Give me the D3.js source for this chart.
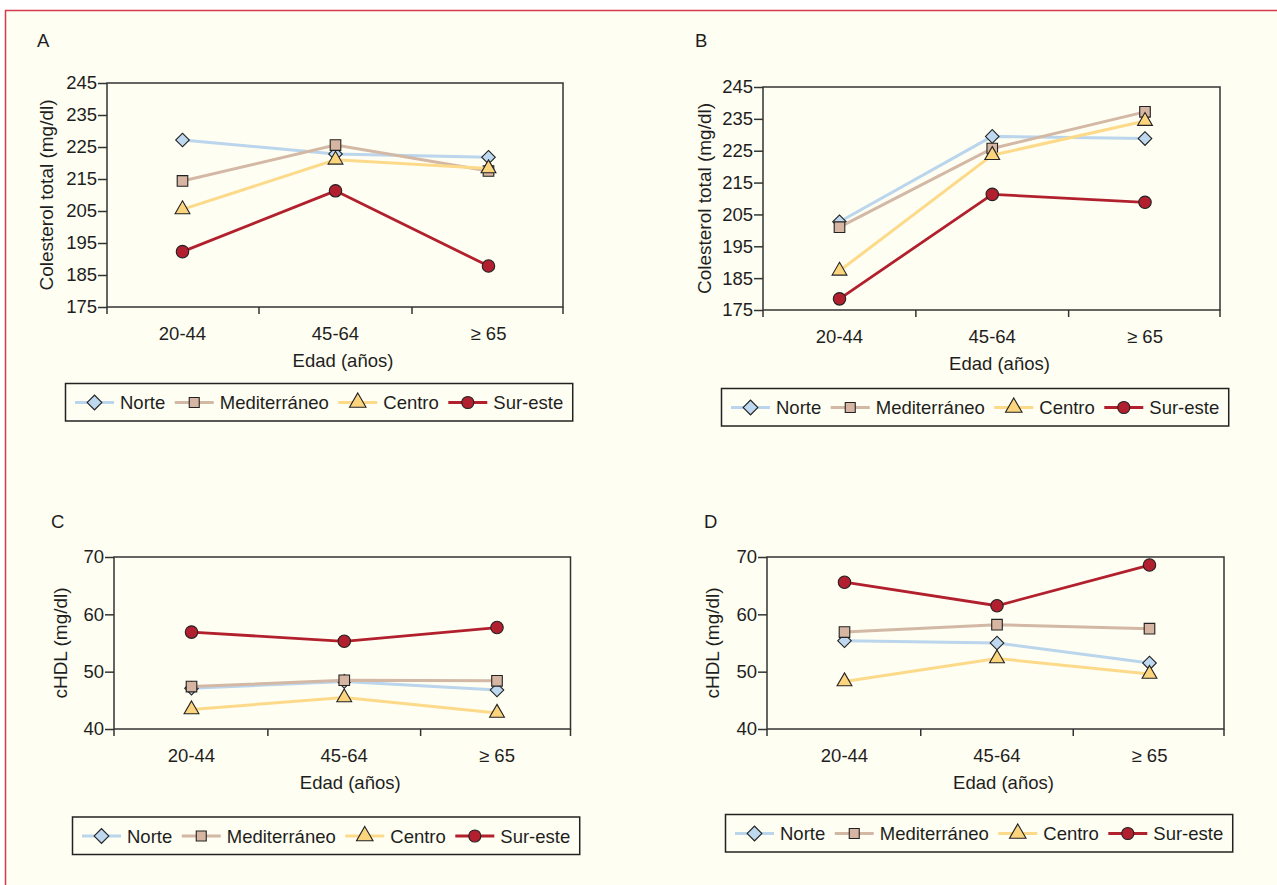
<!DOCTYPE html>
<html>
<head>
<meta charset="utf-8">
<script src="https://cdn.jsdelivr.net/npm/d3@7"></script>
<style>
  body { margin: 0; background: #fff; }
  svg text { font-family: "Liberation Sans", Arial, sans-serif; fill: #1e1e1e; }
</style>
</head>
<body>
<div class="chart"></div>
<script>
const w = 1277;
const h = 885;
const fs = "18.5px";

// categories and series
const ages = ["20-44", "45-64", "\u2265 65"];
const regions = ["Norte", "Mediterráneo", "Centro", "Sur-este"];

// A: colesterol total
const aNorte  = [227.2, 222.8, 221.8];
const aMed    = [214.4, 225.6, 217.5];
const aCentro = [205.5, 221.0, 218.3];
const aSur    = [192.3, 211.3, 187.8];

// B: colesterol total
const bNorte  = [202.7, 229.5, 228.8];
const bMed    = [201.0, 225.7, 237.2];
const bCentro = [187.3, 223.6, 234.3];
const bSur    = [178.5, 211.3, 208.8];

// C: cHDL
const cNorte  = [47.1, 48.3, 46.8];
const cMed    = [47.4, 48.5, 48.4];
const cCentro = [43.4, 45.5, 42.8];
const cSur    = [56.9, 55.3, 57.7];

// D: cHDL
const dNorte  = [55.4, 55.0, 51.5];
const dMed    = [56.9, 58.2, 57.5];
const dCentro = [48.3, 52.3, 49.6];
const dSur    = [65.6, 61.5, 68.6];

const cholTicks = [175, 185, 195, 205, 215, 225, 235, 245];
const hdlTicks = [40, 50, 60, 70];

const lineColor = ["#bad5ec", "#d4b8a6", "#fdda8a", "#b2202e"];
const fillColor = ["#bed8ef", "#d6b6a2", "#fbd47e", "#b21f2e"];
const lineWidth = [3, 3, 3, 2.8];
const shape = ["diamond", "square", "triangle", "circle"];

var svg = d3.select(".chart").append("svg")
    .attr("width", w)
    .attr("height", h);

// page background + red frame
svg.append("rect").attr("x", 5.5).attr("y", 10.5).attr("width", w).attr("height", h)
    .attr("fill", "#fefef2");
svg.append("path").attr("d", "M5.5," + h + "V10.5H" + w)
    .attr("fill", "none").attr("stroke", "#d8394c").attr("stroke-width", 1.5);

function markerPath(kind, big) {
  if (kind == "diamond") return d3.symbol(d3.symbolSquare, big ? 92 : 108)();
  if (kind == "square") return d3.symbol(d3.symbolSquare, big ? 112 : 100)();
  if (kind == "triangle") return d3.symbol(d3.symbolTriangle, big ? 95 : 118)();
  return d3.symbol(d3.symbolCircle, big ? 122 : 115)();
}

function drawMarker(g, kind, i, x, y, big) {
  g.append("path")
    .attr("d", markerPath(kind, big))
    .attr("transform", "translate(" + x + "," + y + ")" + (kind == "diamond" ? " rotate(45)" : ""))
    .attr("fill", fillColor[i])
    .attr("stroke", "#222")
    .attr("stroke-width", 1.1);
}

var panels = [
  { label: "A", lx: 37, ly: 47, x0: 107, x1: 563, y0: 83, y1: 307, p0: 182.5, p1: 488.5,
    ticks: cholTicks, title: "Colesterol total (mg/dl)", tx: 53,
    series: [aNorte, aMed, aCentro, aSur], legX: 65.5, legY: 383.5 },
  { label: "B", lx: 695, ly: 47, x0: 763, x1: 1220, y0: 87, y1: 310, p0: 839.5, p1: 1145,
    ticks: cholTicks, title: "Colesterol total (mg/dl)", tx: 711,
    series: [bNorte, bMed, bCentro, bSur], legX: 721.5, legY: 388.5 },
  { label: "C", lx: 51, ly: 528, x0: 114, x1: 570.5, y0: 557, y1: 729, p0: 191.5, p1: 497,
    ticks: hdlTicks, title: "cHDL (mg/dl)", tx: 67,
    series: [cNorte, cMed, cCentro, cSur], legX: 72.5, legY: 817 },
  { label: "D", lx: 704, ly: 528, x0: 767, x1: 1224, y0: 557, y1: 729, p0: 844.5, p1: 1149.5,
    ticks: hdlTicks, title: "cHDL (mg/dl)", tx: 719,
    series: [dNorte, dMed, dCentro, dSur], legX: 725.5, legY: 814.5 }
];

panels.forEach(drawPanel);

function drawPanel(p) {
  var g = svg.append("g");

  var xScale = d3.scalePoint().domain(ages).range([p.p0, p.p1]);
  var yScale = d3.scaleLinear()
      .domain([p.ticks[0], p.ticks[p.ticks.length - 1]])
      .range([p.y1, p.y0]);

  g.append("text").attr("x", p.lx).attr("y", p.ly)
    .style("font-size", fs).text(p.label);

  // frame
  g.append("rect")
    .attr("x", p.x0).attr("y", yScale.range()[1])
    .attr("width", p.x1 - p.x0).attr("height", p.y1 - p.y0)
    .attr("fill", "none").attr("stroke", "#333").attr("stroke-width", 1.5);

  // y axis
  var yAxis = d3.axisLeft(yScale).tickValues(p.ticks).tickSize(9).tickPadding(1);
  var ya = g.append("g")
    .attr("transform", "translate(" + p.x0 + ",0)")
    .call(yAxis);
  ya.select(".domain").remove();
  ya.selectAll("line").attr("stroke", "#333").attr("stroke-width", 1.5);
  ya.selectAll("text").style("font-size", fs).attr("fill", "#1e1e1e");

  // x axis: tick marks between the categories, labels on the points
  var step = xScale.step();
  var tickX = [p.x0, xScale(ages[0]) + step / 2, xScale(ages[1]) + step / 2, p.x1];
  g.selectAll(".xt").data(tickX).enter().append("line")
    .attr("x1", d => d).attr("x2", d => d)
    .attr("y1", p.y1).attr("y2", p.y1 + 7)
    .attr("stroke", "#333").attr("stroke-width", 1.5);
  g.selectAll(".xl").data(ages).enter().append("text")
    .attr("x", d => xScale(d)).attr("y", p.y1 + 33)
    .attr("text-anchor", "middle")
    .style("font-size", fs)
    .text(d => d);

  g.append("text")
    .attr("x", (p.x0 + p.x1) / 2 + 8).attr("y", p.y1 + 60)
    .attr("text-anchor", "middle")
    .style("font-size", fs)
    .text("Edad (años)");

  g.append("text")
    .attr("transform", "translate(" + p.tx + "," + (p.y0 + p.y1) / 2 + ") rotate(-90)")
    .attr("text-anchor", "middle")
    .style("font-size", "19px")
    .text(p.title);

  // series
  var line = d3.line()
      .x((d, i) => xScale(ages[i]))
      .y(d => yScale(d));

  p.series.forEach(function (vals, i) {
    g.append("path")
      .attr("d", line(vals))
      .attr("fill", "none")
      .attr("stroke", lineColor[i])
      .attr("stroke-width", lineWidth[i]);
    vals.forEach(function (v, j) {
      drawMarker(g, shape[i], i, xScale(ages[j]), yScale(v), true);
    });
  });

  // legend
  var leg = g.append("g");
  var cx = p.legX + 9.5;
  var cy = p.legY + 19;
  regions.forEach(function (name, i) {
    leg.append("line")
      .attr("x1", cx).attr("x2", cx + 39)
      .attr("y1", cy).attr("y2", cy)
      .attr("stroke", lineColor[i]).attr("stroke-width", lineWidth[i]);
    drawMarker(leg, shape[i], i, cx + 19.5, cy, false);
    var t = leg.append("text")
      .attr("x", cx + 45).attr("y", cy + 6.5)
      .style("font-size", fs)
      .text(name);
    cx = cx + 45 + t.node().getComputedTextLength() + 9.5;
  });
  leg.insert("rect", ":first-child")
    .attr("x", p.legX).attr("y", p.legY)
    .attr("width", cx - p.legX).attr("height", 37.5)
    .attr("fill", "#fefef2").attr("stroke", "#222").attr("stroke-width", 1.5);
}
</script>
</body>
</html>
